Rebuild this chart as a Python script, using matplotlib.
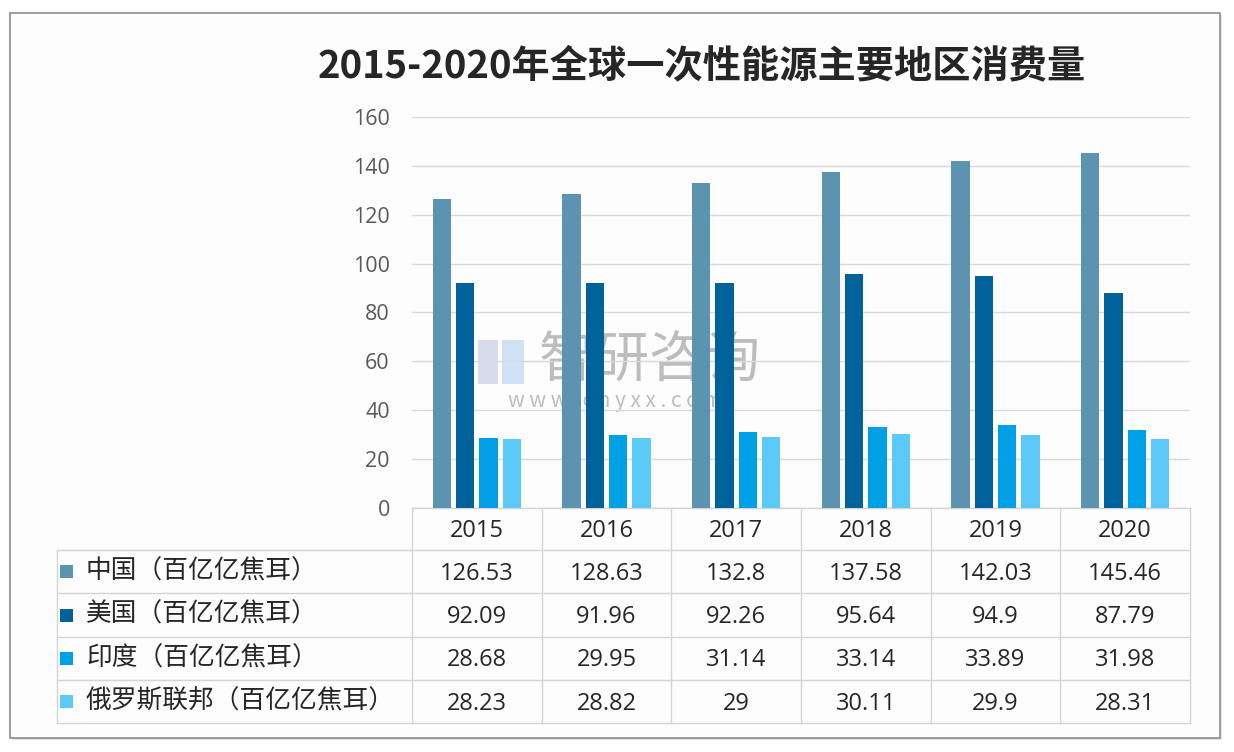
import numpy as np
import matplotlib.pyplot as plt
from matplotlib.patches import Rectangle

plt.rcParams['font.family'] = ['Noto Sans CJK SC', 'DejaVu Sans']

years = ['2015', '2016', '2017', '2018', '2019', '2020']
series = ['中国（百亿亿焦耳）', '美国（百亿亿焦耳）', '印度（百亿亿焦耳）', '俄罗斯联邦（百亿亿焦耳）']
china = [126.53, 128.63, 132.8, 137.58, 142.03, 145.46]
usa = [92.09, 91.96, 92.26, 95.64, 94.9, 87.79]
india = [28.68, 29.95, 31.14, 33.14, 33.89, 31.98]
russia = [28.23, 28.82, 29, 30.11, 29.9, 28.31]
values = [china, usa, india, russia]
colors = ['#5b93b0', '#00629b', '#00a0e6', '#5ccaf8']

W, H = 1234, 752
fig = plt.figure(figsize=(W / 100, H / 100), dpi=100)

# background axes in pixel coords
bg = fig.add_axes([0, 0, 1, 1])
bg.set_xlim(0, W)
bg.set_ylim(H, 0)
bg.axis('off')
bg.add_patch(Rectangle((12, 15), 1210, 725, facecolor='#e6e6e6', edgecolor='none'))
bg.add_patch(Rectangle((10, 13), 1210, 725, facecolor='#fdfdfd', edgecolor='#8c8c8c', lw=1.2))

bg.text(702, 66, '2015-2020年全球一次性能源主要地区消费量', ha='center', va='center',
        fontsize=27.5, fontweight='bold', color='#262626')

# plot area
x0, x1, y0, y1 = 412, 1190, 508, 117
ax = fig.add_axes([x0 / W, 1 - y0 / H, (x1 - x0) / W, (y0 - y1) / H])
ax.set_facecolor('none')
n = len(years)
x = np.arange(n)
bw = 0.143
offs = [-1.5, -0.5, 0.5, 1.5]
for k in range(4):
    ax.bar(x + offs[k] * 0.18, values[k], width=bw, color=colors[k], zorder=3)
ax.set_xlim(-0.5, n - 0.5)
ax.set_ylim(0, 160)
ax.set_yticks(range(0, 161, 20))
ax.set_xticks([])
ax.grid(axis='y', color='#d9d9d9', lw=1, zorder=0)
for s in ax.spines.values():
    s.set_visible(False)
ax.tick_params(axis='y', length=0, pad=16, labelsize=15.5, labelcolor='#595959')
for lab in ax.get_yticklabels():
    lab.set_fontfamily(['Open Sans', 'DejaVu Sans'])

# data table
colw = (x1 - x0) / n
rows = [508, 550, 593, 637, 680, 723]
lc = '#d4d4d4'
bg.plot([x0, x1], [rows[0], rows[0]], color=lc, lw=1)
for r in rows[1:]:
    bg.plot([57, x1], [r, r], color=lc, lw=1)
for i in range(n + 1):
    bg.plot([x0 + i * colw] * 2, [rows[0], rows[-1]], color=lc, lw=1)
bg.plot([57, 57], [rows[1], rows[-1]], color=lc, lw=1)

for i, yr in enumerate(years):
    bg.text(x0 + (i + 0.5) * colw, (rows[0] + rows[1]) / 2 + 2, yr, ha='center', va='center',
            fontsize=17, color='#262626', family=['Open Sans', 'DejaVu Sans'])
for k in range(4):
    yc = (rows[k + 1] + rows[k + 2]) / 2
    bg.add_patch(Rectangle((60, yc - 6.5), 13, 13, facecolor=colors[k], edgecolor='none'))
    bg.text(86, yc, series[k], ha='left', va='center', fontsize=18.5, color='#262626')
    for i in range(n):
        bg.text(x0 + (i + 0.5) * colw, yc + 2, '%g' % values[k][i], ha='center', va='center',
                fontsize=17, color='#262626', family=['Open Sans', 'DejaVu Sans'])

# watermark
bg.add_patch(Rectangle((478, 340), 20, 44, facecolor='#c9cde6', edgecolor='none', alpha=0.7))
bg.add_patch(Rectangle((502, 340), 22, 44, facecolor='#bcd6f0', edgecolor='none', alpha=0.7))
bg.text(650, 362, '智研咨询', ha='center', va='center', fontsize=40, color='#8a8a8a', alpha=0.55)
bg.text(615, 401, 'w w w . c h y x x . c o m', ha='center', va='center', fontsize=15,
        color='#8a8a8a', alpha=0.55)

fig.savefig('out.png', dpi=100)
